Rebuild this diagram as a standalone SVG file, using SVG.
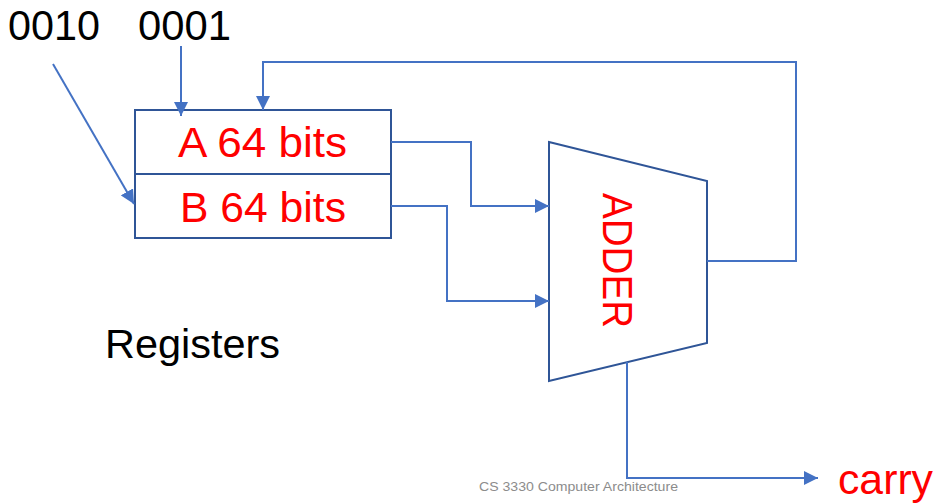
<svg xmlns="http://www.w3.org/2000/svg" width="938" height="503" viewBox="0 0 938 503">
  <style>
    .wire { fill: none; stroke: #4472C4; stroke-width: 2; }
    .shape { fill: #FFFFFF; stroke: #2F5597; stroke-width: 2; }
    .label { font-family: "Liberation Sans", Arial, sans-serif; fill: #000000; }
    .red { font-family: "Liberation Sans", Arial, sans-serif; fill: #FF0000; }
    .foot { font-family: "Liberation Sans", Arial, sans-serif; fill: #8C8C8C; }
  </style>
  <defs>
    <marker id="arrow" viewBox="0 0 14 14" markerWidth="14" markerHeight="14" refX="14" refY="7" markerUnits="userSpaceOnUse" orient="auto">
      <path d="M0,0 L14,7 L0,14 Z" fill="#4472C4"/>
    </marker>
  </defs>

  <rect width="938" height="503" fill="#FFFFFF"/>

  <!-- input values -->
  <g id="input-0010">
    <text class="label" x="8" y="40" font-size="42" textLength="92" lengthAdjust="spacingAndGlyphs">0010</text>
  </g>
  <g id="input-0001">
    <text class="label" x="138" y="40" font-size="42" textLength="93" lengthAdjust="spacingAndGlyphs">0001</text>
  </g>

  <!-- register file -->
  <g id="registers">
    <rect class="shape" x="135" y="110" width="256" height="128"/>
    <line class="shape" x1="135" y1="174" x2="391" y2="174"/>
    <text class="red" x="178" y="157" font-size="43" textLength="169" lengthAdjust="spacingAndGlyphs">A 64 bits</text>
    <text class="red" x="180" y="222" font-size="43" textLength="166" lengthAdjust="spacingAndGlyphs">B 64 bits</text>
  </g>
  <g id="registers-label">
    <text class="label" x="105" y="358" font-size="41" textLength="175" lengthAdjust="spacingAndGlyphs">Registers</text>
  </g>

  <!-- adder -->
  <g id="adder">
    <polygon class="shape" points="549,142 707,181 707,343 549,381"/>
    <text class="red" x="0" y="0" font-size="42" textLength="135" lengthAdjust="spacingAndGlyphs" transform="translate(603,193) rotate(90)">ADDER</text>
  </g>

  <g id="carry">
    <text class="red" x="838" y="494" font-size="42" textLength="95" lengthAdjust="spacingAndGlyphs">carry</text>
  </g>

  <!-- connectors -->
  <g id="connectors">
    <line class="wire" x1="181" y1="46" x2="181" y2="116" marker-end="url(#arrow)"/>
    <line class="wire" x1="53" y1="64" x2="134" y2="204" marker-end="url(#arrow)"/>
    <polyline class="wire" points="707,261 796,261 796,62 263,62 263,110" marker-end="url(#arrow)"/>
    <polyline class="wire" points="391,142 471,142 471,206 549,206" marker-end="url(#arrow)"/>
    <polyline class="wire" points="391,206 447,206 447,301 549,301" marker-end="url(#arrow)"/>
    <polyline class="wire" points="627,362 627,478 818,478" marker-end="url(#arrow)"/>
  </g>

  <g id="footer">
    <text class="foot" x="479" y="491" font-size="13" textLength="199" lengthAdjust="spacingAndGlyphs">CS 3330 Computer Architecture</text>
  </g>
</svg>
